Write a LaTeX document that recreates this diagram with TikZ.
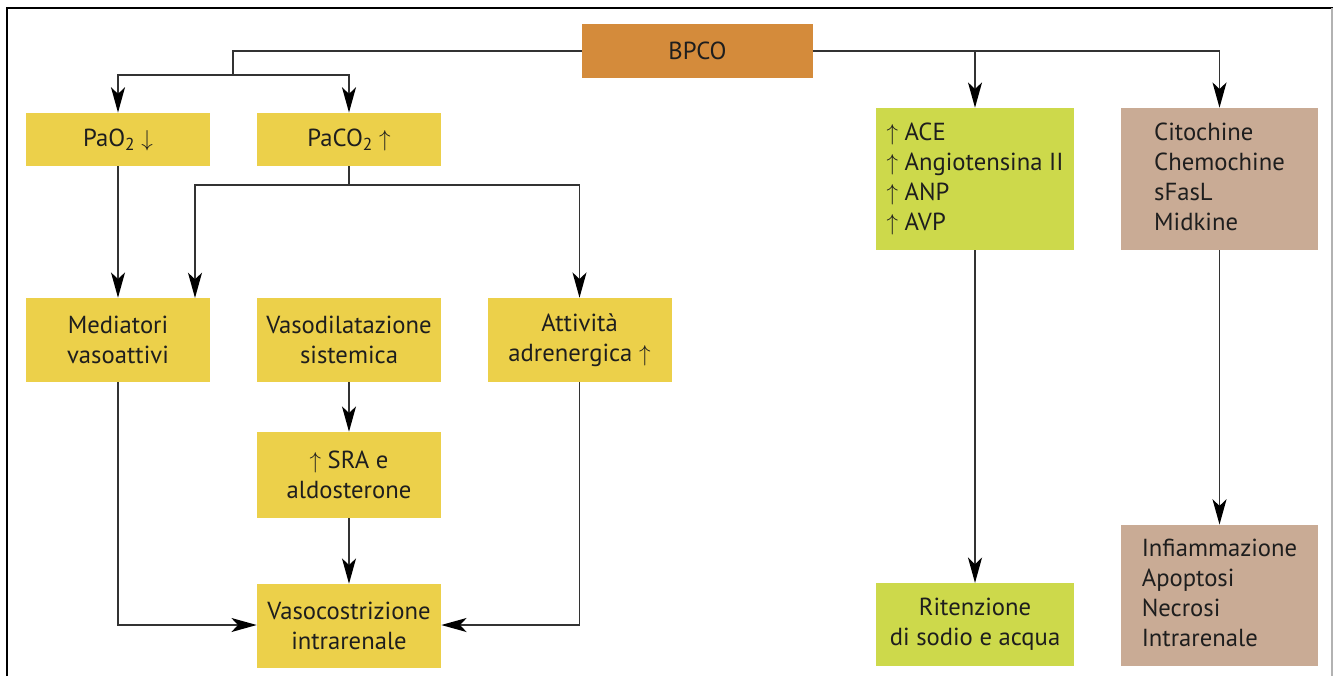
\documentclass[tikz,border=0pt]{standalone}
\usepackage{fontspec}
\setmainfont{PT Sans}
\usetikzlibrary{arrows.meta}
\definecolor{boxyellow}{HTML}{ECD04A}
\definecolor{boxgreen}{HTML}{CDD94B}
\definecolor{boxbrown}{HTML}{C9AB95}
\definecolor{boxorange}{HTML}{D48B3B}
\definecolor{linegray}{HTML}{333333}
\definecolor{txt}{HTML}{1E1E1E}
\newcommand{\up}{$\uparrow$}
\newcommand{\down}{$\downarrow$}
\newcommand{\sub}[1]{\raisebox{-0.35ex}{\fontsize{13pt}{13pt}\selectfont #1}}
\tikzset{
  box/.style={inner sep=0pt, text=txt, align=center,
    font=\fontsize{18.5pt}{22.5pt}\selectfont},
  ybox/.style={box, fill=boxyellow, minimum width=138pt},
  gbox/.style={box, fill=boxgreen, minimum width=148.5pt},
  bbox/.style={box, fill=boxbrown, minimum width=148pt},
  link/.style={draw=linegray, line width=1.4pt},
  arr/.style={link, -{Stealth[length=19pt, width=10.5pt, inset=5pt, color=black]}},
}
\begin{document}
\begin{tikzpicture}[x=0.75pt, y=-0.75pt]
\useasboundingbox (0,0) rectangle (1333,676);
% frame
\draw[black, line width=1.6pt] (7,676) -- (7,8) -- (1333,8);
\draw[gray!60, line width=0.8pt] (1332,8) -- (1332,676);

% nodes
\node[box, fill=boxorange, minimum width=173pt, minimum height=40.5pt] (bpco) at (697.5,51) {BPCO};
\node[ybox, minimum height=40pt] (pao2) at (118,139.5) {PaO\sub{2} \down};
\node[ybox, minimum height=40pt] (paco2) at (349,139.5) {PaCO\sub{2} \up};
\node[ybox, minimum height=63pt] (med) at (118,340) {Mediatori\\vasoattivi};
\node[ybox, minimum height=63pt] (vaso) at (349,340) {Vasodilatazione\\sistemica};
\node[ybox, minimum height=63pt] (adr) at (579.5,340) {Attività\\adrenergica \up};
\node[ybox, minimum height=64.5pt] (sra) at (349,475) {\up\ SRA e\\aldosterone};
\node[ybox, minimum height=63pt] (vc) at (349,626) {Vasocostrizione\\intrarenale};
\node[gbox, minimum height=106.5pt] (ace) at (975,179)
  {\begin{tabular}{@{}l@{}}\up\ ACE\\\up\ Angiotensina II\\\up\ ANP\\\up\ AVP\end{tabular}};
\node[bbox, minimum height=106.5pt] (cito) at (1219.5,179)
  {\begin{tabular}{@{}l@{}}Citochine\\Chemochine\\sFasL\\Midkine\end{tabular}};
\node[gbox, minimum height=62pt] (rit) at (975,624.5) {Ritenzione\\di sodio e acqua};
\node[bbox, minimum height=106pt] (inf) at (1219.5,595.5)
  {\begin{tabular}{@{}l@{}}Infiammazione\\Apoptosi\\Necrosi\\Intrarenale\end{tabular}};

% branch points
\coordinate (lt) at (233,51);
\coordinate (lb) at (233,75);
\coordinate (co) at (349,185);

% BPCO to blood gases
\draw[link] (bpco.west) -- (lt) -- (lb);
\draw[arr] (lb) -- (118,75) -- (pao2.north);
\draw[arr] (lb) -- (349,75) -- (paco2.north);

% BPCO to right column
\draw[link] (bpco.east) -- (975,51);
\draw[arr] (975,51) -- (ace.north);
\draw[arr] (975,51) -- (1219.5,51) -- (cito.north);

% PaO2 / PaCO2 effects
\draw[arr] (pao2.south) -- (med.north);
\draw[link] (paco2.south) -- (co);
\draw[arr] (co) -- (195,185) -- (195,298);
\draw[arr] (co) -- (579.5,185) -- (adr.north);

% toward intrarenal vasoconstriction
\draw[arr] (vaso.south) -- (sra.north);
\draw[arr] (sra.south) -- (vc.north);
\draw[arr] (med.south) -- (118,625) -- (vc.west |- 0,625);
\draw[arr] (adr.south) -- (579.5,625) -- (vc.east |- 0,625);

% right column
\draw[arr] (ace.south) -- (rit.north);
\draw[arr] (cito.south) -- (inf.north);
\end{tikzpicture}
\end{document}
